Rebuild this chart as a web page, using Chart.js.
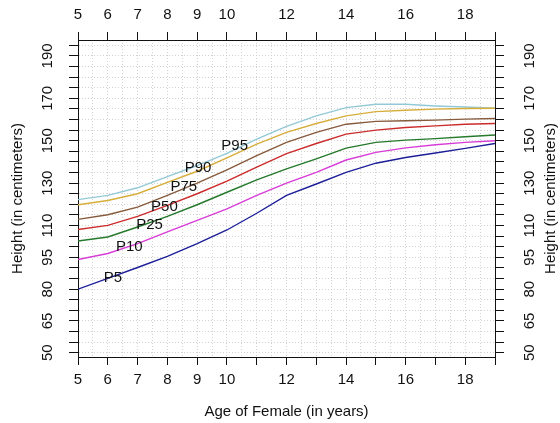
<!DOCTYPE html>
<html>
<head>
<meta charset="utf-8">
<script src="https://cdn.jsdelivr.net/npm/chart.js@4.4.1/dist/chart.umd.min.js"></script>
<style>
  html, body { margin: 0; padding: 0; background: #fff; }
  #wrap { width: 560px; height: 423px; }
</style>
</head>
<body>
<div id="wrap"><canvas id="chartAltura" width="560" height="423"></canvas></div>
<script>
// edades (x) y percentiles de altura en cm (y)
const edades = [5, 6, 7, 8, 9, 10, 11, 12, 13, 14, 15, 16, 17, 18, 19];
const p5  = [80.0, 85.1, 90.2, 95.5, 101.5, 107.9, 115.8, 124.2, 129.6, 135.1, 139.4, 142.1, 144.2, 146.4, 148.7];
const p10 = [94.0, 96.8, 101.5, 107.0, 112.4, 117.9, 124.2, 130.0, 135.1, 140.9, 144.5, 146.6, 148.1, 149.2, 150.0];
const p25 = [102.7, 104.6, 109.3, 114.3, 119.8, 125.7, 131.5, 136.7, 141.4, 146.5, 149.2, 150.3, 151.0, 151.9, 152.7];
const p50 = [108.1, 110.1, 114.3, 119.5, 125.0, 130.9, 137.5, 143.9, 148.7, 153.1, 155.0, 156.2, 157.0, 157.8, 158.1];
const p75 = [112.9, 115.1, 118.7, 124.2, 130.0, 136.2, 143.0, 149.2, 153.9, 157.8, 159.1, 159.4, 159.7, 160.2, 160.5];
const p90 = [119.8, 121.8, 125.0, 130.4, 135.6, 141.9, 148.4, 153.9, 158.1, 161.7, 163.7, 164.4, 164.9, 165.2, 165.3];
const p95 = [122.2, 124.2, 127.8, 133.1, 138.3, 144.0, 150.8, 156.8, 161.7, 165.6, 167.2, 167.2, 166.4, 165.9, 165.3];

const nombres = ['P5', 'P10', 'P25', 'P50', 'P75', 'P90', 'P95'];
const series  = [p5, p10, p25, p50, p75, p90, p95];
const colores = ['#1c1f98', '#d83cd8', '#25792b', '#cc2b2b', '#875a3c', '#d7ae3a', '#93c9d6'];

const xTickLabels = [5, 6, 7, 8, 9, 10, 12, 14, 16, 18];
const yTickLabels = [50, 65, 80, 95, 110, 130, 150, 170, 190];

// donde va cada etiqueta Pxx (edad, cm)
const etiquetaEdad   = [6.17, 6.72, 7.4, 7.9, 8.55, 9.03, 10.26];
const etiquetaAltura = [85.1, 99.9, 110.4, 119.0, 128.1, 137.0, 147.7];

const FONT = '15px "Liberation Sans", Arial, sans-serif';
const INK = '#111';
const gridColor = '#d2d2d2';

const datasets = series.map((vals, i) => ({
    label: nombres[i],
    data: vals.map((v, j) => ({ x: edades[j], y: v })),
    borderColor: colores[i],
    borderWidth: 1.4,
    pointRadius: 0,
    tension: 0,
    fill: false,
}));

const chartEl = document.getElementById('chartAltura');
const chart = new Chart(chartEl, {
    type: 'line',
    data: { datasets },
    options: {
        responsive: false,
        animation: false,
        devicePixelRatio: 1,
        layout: { padding: 0 },
        plugins: { legend: { display: false }, tooltip: { enabled: false } },
        scales: {
            x: {
                type: 'linear', position: 'bottom', min: 5, max: 19,
                ticks: { stepSize: 0.5, display: false },
                grid: {
                    color: gridColor, tickLength: 8, tickWidth: 1,
                    tickColor: ctx => (ctx.tick && Number.isInteger(ctx.tick.value)) ? INK : 'rgba(0,0,0,0)'
                },
                border: { color: INK, width: 1, dash: [1, 2] },
                afterFit: s => { s.height = 66; }
            },
            x2: {
                type: 'linear', position: 'top', min: 5, max: 19,
                ticks: { stepSize: 1, display: false },
                grid: { drawOnChartArea: false, tickLength: 8, tickColor: INK },
                border: { color: INK, width: 1 },
                afterFit: s => { s.height = 40; }
            },
            y: {
                type: 'linear', position: 'left', min: 48, max: 197.5,
                ticks: { stepSize: 5, display: false, includeBounds: false },
                grid: { color: gridColor, tickLength: 9, tickColor: INK },
                border: { color: INK, width: 1, dash: [1, 2] },
                afterFit: s => { s.width = 78; }
            },
            y2: {
                type: 'linear', position: 'right', min: 48, max: 197.5,
                ticks: { stepSize: 5, display: false, includeBounds: false },
                grid: { drawOnChartArea: false, tickLength: 9, tickColor: INK },
                border: { color: INK, width: 1 },
                afterFit: s => { s.width = 65; }
            }
        }
    },
    plugins: [{
        id: 'fondo',
        beforeDraw(chart) {
            const { ctx, width, height } = chart;
            ctx.save();
            ctx.fillStyle = '#ffffff';
            ctx.fillRect(0, 0, width, height);
            ctx.restore();
        }
    }, {
        id: 'textos',
        afterDraw(chart) {
            const { ctx, scales, chartArea } = chart;
            ctx.save();
            ctx.fillStyle = INK;
            ctx.font = FONT;
            ctx.textAlign = 'center';
            ctx.textBaseline = 'middle';

            // numeros de edad, arriba y abajo
            xTickLabels.forEach(v => {
                const px = scales.x.getPixelForValue(v);
                ctx.fillText(String(v), px, 15);
                ctx.fillText(String(v), px, 380);
            });

            // numeros de altura, girados, a ambos lados
            yTickLabels.forEach(v => {
                const py = scales.y.getPixelForValue(v);
                [48, 530].forEach(px => {
                    ctx.save();
                    ctx.translate(px, py);
                    ctx.rotate(-Math.PI / 2);
                    ctx.fillText(String(v), 0, 0);
                    ctx.restore();
                });
            });

            // titulos de ejes
            const midY = (chartArea.top + chartArea.bottom) / 2;
            ctx.fillText('Age of Female (in years)', (chartArea.left + chartArea.right) / 2, 412);
            [18, 551].forEach(px => {
                ctx.save();
                ctx.translate(px, midY);
                ctx.rotate(-Math.PI / 2);
                ctx.fillText('Height (in centimeters)', 0, 0);
                ctx.restore();
            });

            // etiquetas de percentil sobre las curvas
            nombres.forEach((n, i) => {
                ctx.fillText(n, scales.x.getPixelForValue(etiquetaEdad[i]), scales.y.getPixelForValue(etiquetaAltura[i]));
            });
            ctx.restore();
        }
    }]
});
</script>
</body>
</html>
